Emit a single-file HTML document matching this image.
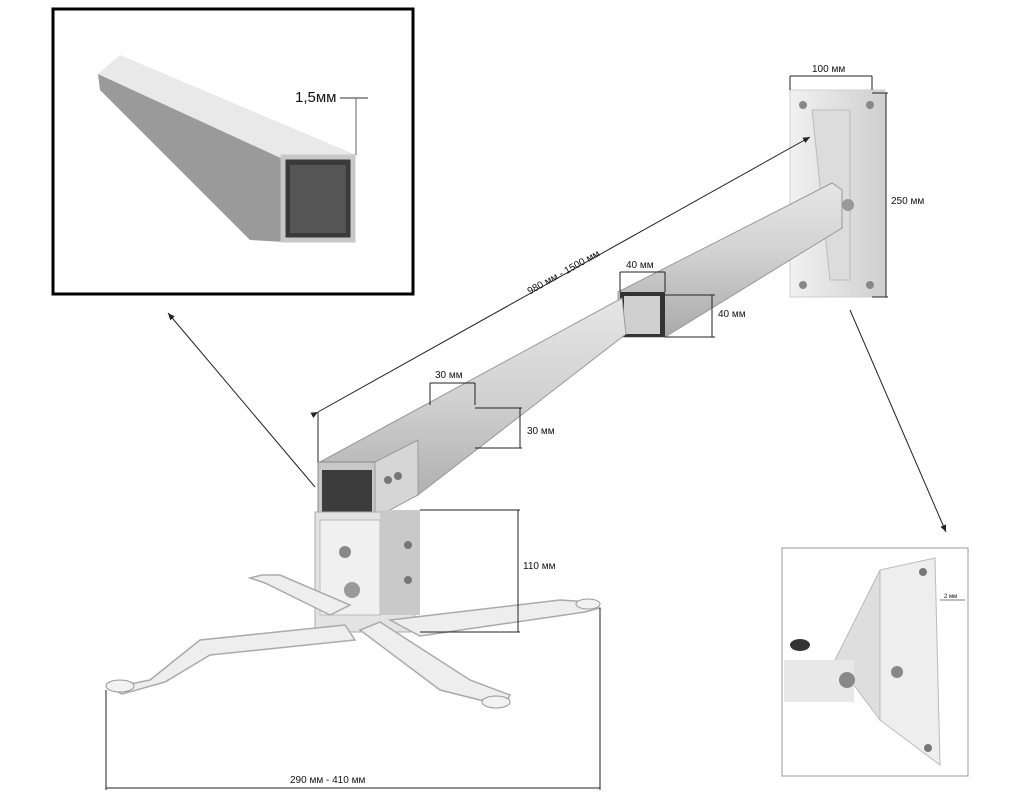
<!DOCTYPE html>
<html><head><meta charset="utf-8"><style>
html,body{margin:0;padding:0;background:#fff;}
svg{display:block;font-family:"Liberation Sans",sans-serif;}
</style></head><body>
<svg width="1024" height="800" viewBox="0 0 1024 800">
<defs>
<linearGradient id="tube" x1="0" y1="0" x2="0" y2="1">
<stop offset="0" stop-color="#e6e6e6"/><stop offset="0.45" stop-color="#d2d2d2"/><stop offset="1" stop-color="#a9a9a9"/></linearGradient>
<linearGradient id="alu" x1="0" y1="0" x2="1" y2="1">
<stop offset="0" stop-color="#ffffff"/><stop offset="0.5" stop-color="#bdbdbd"/><stop offset="1" stop-color="#7a7a7a"/></linearGradient>
<linearGradient id="plate" x1="0" y1="0" x2="1" y2="0">
<stop offset="0" stop-color="#f1f1f1"/><stop offset="1" stop-color="#cfcfcf"/></linearGradient>
<marker id="ar" markerWidth="8" markerHeight="8" refX="7" refY="4" orient="auto"><path d="M0,1 L7,4 L0,7 z" fill="#222"/></marker>
</defs>

<rect x="53" y="9" width="360" height="285" fill="#fff" stroke="#000" stroke-width="3"/>
<polygon points="98,74 120,55 355,155 352,238 285,242" fill="url(#alu)"/>
<polygon points="98,74 285,160 285,242 250,240 100,90" fill="#9a9a9a"/>
<polygon points="120,55 355,155 285,160 98,74" fill="#e9e9e9"/>
<rect x="283" y="157" width="70" height="83" fill="#3a3a3a" stroke="#c8c8c8" stroke-width="5"/>
<rect x="290" y="165" width="56" height="68" fill="#555"/>
<text x="295" y="102" font-size="15" fill="#111">1,5мм</text>
<line x1="340" y1="98" x2="368" y2="98" stroke="#333" stroke-width="1"/>
<line x1="356" y1="98" x2="356" y2="155" stroke="#666" stroke-width="1"/>

<rect x="790" y="90" width="95" height="207" fill="url(#plate)" stroke="#d0d0d0"/>
<circle cx="803" cy="105" r="4" fill="#888"/><circle cx="870" cy="105" r="4" fill="#888"/>
<circle cx="803" cy="285" r="4" fill="#888"/><circle cx="870" cy="285" r="4" fill="#888"/>
<polygon points="812,110 850,110 850,280 830,280" fill="#dcdcdc" stroke="#bbb"/>
<circle cx="848" cy="205" r="6" fill="#999"/>

<polygon points="618,292 832,183 842,190 842,228 665,337 618,337" fill="url(#tube)" stroke="#999"/>
<rect x="620" y="292" width="45" height="45" fill="#333"/>
<polygon points="624,296 660,296 660,334 624,334" fill="#cfcfcf"/>
<polygon points="320,462 622,298 626,334 418,495 378,515 320,500" fill="url(#tube)" stroke="#999"/>
<polygon points="318,462 375,462 375,518 318,518" fill="#c8c8c8" stroke="#888"/>
<rect x="322" y="470" width="50" height="43" fill="#3c3c3c"/>
<polygon points="375,462 418,440 418,495 375,518" fill="#d6d6d6" stroke="#999"/>
<circle cx="388" cy="480" r="4" fill="#777"/><circle cx="398" cy="476" r="4" fill="#777"/>

<rect x="315" y="512" width="100" height="120" fill="#e3e3e3" stroke="#aaa"/>
<rect x="320" y="520" width="60" height="95" fill="#f0f0f0" stroke="#bbb"/>
<rect x="380" y="510" width="40" height="105" fill="#c9c9c9"/>
<circle cx="345" cy="552" r="6" fill="#888"/><circle cx="352" cy="590" r="8" fill="#999"/>
<circle cx="408" cy="545" r="4" fill="#777"/><circle cx="408" cy="580" r="4" fill="#777"/>
<g fill="#eee" stroke="#aaa" stroke-width="1.5">
<polygon points="345,625 200,640 150,680 110,688 122,694 165,682 210,655 355,640"/>
<polygon points="360,630 440,690 480,700 505,705 510,695 470,680 380,622"/>
<polygon points="390,620 560,600 590,602 600,608 585,612 420,636"/>
<polygon points="330,615 265,583 250,578 262,575 280,575 350,605"/>
</g>
<ellipse cx="120" cy="686" rx="14" ry="6" fill="#f2f2f2" stroke="#999"/>
<ellipse cx="496" cy="702" rx="14" ry="6" fill="#f2f2f2" stroke="#999"/>
<ellipse cx="588" cy="604" rx="12" ry="5" fill="#f2f2f2" stroke="#999"/>

<g stroke="#222" stroke-width="1" fill="none">
<line x1="318" y1="412" x2="810" y2="137" marker-end="url(#ar)" marker-start="url(#ar)"/>
<line x1="318" y1="412" x2="318" y2="462"/>
<line x1="620" y1="272" x2="665" y2="272"/><line x1="620" y1="272" x2="620" y2="292"/><line x1="665" y1="272" x2="665" y2="292"/>
<line x1="665" y1="295" x2="715" y2="295"/><line x1="665" y1="337" x2="715" y2="337"/><line x1="712" y1="295" x2="712" y2="337"/>
<line x1="430" y1="383" x2="475" y2="383"/><line x1="430" y1="383" x2="430" y2="405"/><line x1="475" y1="383" x2="475" y2="405"/>
<line x1="475" y1="408" x2="522" y2="408"/><line x1="475" y1="448" x2="522" y2="448"/><line x1="520" y1="408" x2="520" y2="448"/>
<line x1="790" y1="76" x2="872" y2="76"/><line x1="790" y1="76" x2="790" y2="90"/><line x1="872" y1="76" x2="872" y2="90"/>
<line x1="872" y1="93" x2="888" y2="93"/><line x1="872" y1="297" x2="888" y2="297"/><line x1="886" y1="93" x2="886" y2="297"/>
<line x1="420" y1="510" x2="520" y2="510"/><line x1="420" y1="632" x2="520" y2="632"/><line x1="518" y1="510" x2="518" y2="632"/>
<line x1="106" y1="690" x2="106" y2="790"/><line x1="600" y1="608" x2="600" y2="790"/><line x1="106" y1="788" x2="600" y2="788"/>
<line x1="315" y1="487" x2="168" y2="313" marker-end="url(#ar)"/>
<line x1="850" y1="310" x2="946" y2="532" marker-end="url(#ar)"/>
</g>
<g font-size="10" fill="#111">
<text x="565" y="275" transform="rotate(-29 565 275)" text-anchor="middle">980 мм - 1500 мм</text>
<text x="626" y="268">40 мм</text>
<text x="718" y="317">40 мм</text>
<text x="435" y="378">30 мм</text>
<text x="527" y="434">30 мм</text>
<text x="812" y="72">100 мм</text>
<text x="891" y="204">250 мм</text>
<text x="523" y="569">110 мм</text>
<text x="290" y="783">290 мм - 410 мм</text>
</g>

<rect x="782" y="548" width="186" height="228" fill="#fff" stroke="#999"/>
<polygon points="880,570 935,558 940,765 880,720" fill="#eeeeee" stroke="#bbb"/>
<polygon points="880,570 835,660 880,720" fill="#dedede" stroke="#bbb"/>
<rect x="784" y="660" width="70" height="42" fill="#e8e8e8"/>
<circle cx="923" cy="572" r="4" fill="#777"/><circle cx="928" cy="748" r="4" fill="#777"/>
<circle cx="847" cy="680" r="8" fill="#888"/><circle cx="897" cy="672" r="6" fill="#888"/>
<ellipse cx="800" cy="645" rx="10" ry="6" fill="#333"/>
<line x1="940" y1="600" x2="965" y2="600" stroke="#555" stroke-width="0.8"/>
<text x="944" y="598" font-size="6" fill="#111">2 мм</text>
</svg>
</body></html>
